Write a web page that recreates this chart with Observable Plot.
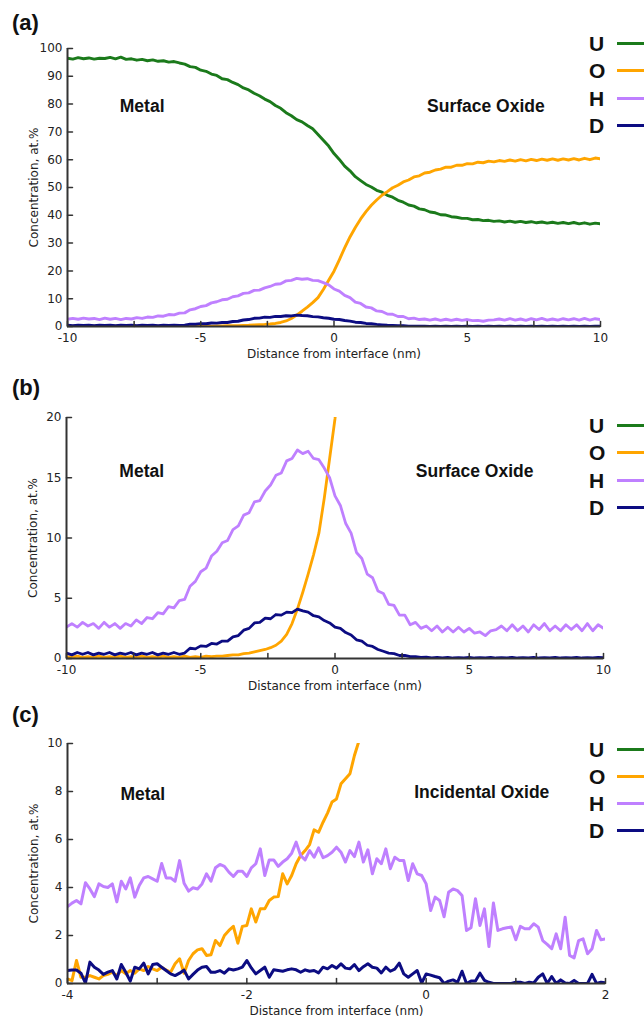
<!DOCTYPE html>
<html>
<head>
<meta charset="utf-8">
<script src="https://cdn.jsdelivr.net/npm/d3@7"></script>
<script src="https://cdn.jsdelivr.net/npm/@observablehq/plot@0.6"></script>
<style>
  body { margin: 0; background: #fff; }
  #fig { position: relative; width: 644px; height: 1017px; overflow: hidden; font-family: "Liberation Sans", Arial, sans-serif; color: #111; }
  .panel { position: absolute; left: 0; }
  .plabel { position: absolute; left: 12px; font-weight: bold; font-size: 22px; line-height: 22px; }
  .legrow { position: absolute; left: 589px; width: 55px; height: 21px; display: flex; align-items: center; }
  .legrow span { font-weight: bold; font-size: 21px; line-height: 21px; width: 28px; }
  .legrow i { display: block; width: 27px; height: 3px; }
</style>
</head>
<body>
<div id="fig"></div>
<script>
// ---------- data ----------
const elements = ["U", "O", "H", "D"];
const elementColors = ["#1b7a1b", "#ffa500", "#bf80ff", "#0c0c82"];

// panels (a) and (b): same profile, sampled every 0.2 nm from -10 to 10
const distanceAB = d3.range(101).map(i => +(-10 + i * 0.2).toFixed(1));
const uAB = [96.5,96.2,96.7,96.3,96.6,96.2,96.5,96.4,96.8,96.3,96.9,96.1,96.3,95.8,96.1,95.6,95.9,95.4,95.6,95.1,
  95.3,94.8,94.4,93.5,93.2,92.2,91.8,90.8,90.3,89.1,88.8,87.8,87.0,85.8,85.1,83.9,83.0,81.8,80.9,79.5,
  78.5,76.9,75.8,74.4,73.6,72.3,71.1,69.1,67.0,64.9,62.2,60.1,57.7,56.0,53.9,52.5,51.1,50.2,49.0,48.3,
  47.2,46.5,45.4,44.7,43.7,43.3,42.3,42.0,41.2,40.9,40.2,40.1,39.5,39.3,38.9,38.9,38.4,38.5,38.1,38.2,
  37.8,38.0,37.6,37.9,37.5,37.8,37.4,37.7,37.3,37.6,37.2,37.5,37.1,37.4,37.0,37.4,36.9,37.3,36.8,37.2,36.9];
const oAB = [0.15,0.1,0.2,0.1,0.15,0.1,0.2,0.1,0.15,0.1,0.2,0.1,0.15,0.1,0.2,0.1,0.15,0.1,0.2,0.1,
  0.15,0.1,0.2,0.1,0.15,0.1,0.2,0.15,0.2,0.2,0.25,0.3,0.3,0.4,0.45,0.55,0.65,0.75,0.9,1.1,
  1.45,2.0,2.9,4.1,5.5,7.0,8.6,10.4,13.3,16.6,19.9,24.0,28.3,32.2,35.6,38.7,41.3,43.6,45.5,47.2,
  48.5,49.9,50.8,52.0,52.7,53.8,54.2,55.2,55.5,56.3,56.6,57.3,57.3,58.0,58.0,58.6,58.5,59.1,58.9,59.5,
  59.2,59.7,59.4,59.9,59.5,60.0,59.6,60.1,59.7,60.2,59.8,60.3,59.8,60.3,59.9,60.4,59.9,60.5,60.0,60.6,60.3];
const hAB = [2.6,2.9,2.6,3.0,2.7,2.9,2.5,3.0,2.6,2.9,2.5,2.9,2.7,3.2,2.9,3.4,3.3,3.8,3.7,4.3,
  4.2,4.8,4.9,6.0,6.4,7.2,7.5,8.5,8.9,9.6,9.8,10.7,11.0,11.9,12.1,13.0,13.1,13.9,14.4,15.2,
  15.4,16.4,16.6,17.3,17.0,17.2,16.6,16.5,15.8,15.0,13.5,12.7,11.2,10.4,8.8,8.3,7.0,6.7,5.6,5.4,
  4.5,4.4,3.6,3.6,2.8,3.0,2.5,2.7,2.3,2.7,2.2,2.6,2.2,2.6,2.2,2.5,2.1,2.2,1.9,2.3,
  2.4,2.7,2.3,2.8,2.3,2.7,2.2,2.8,2.4,2.9,2.3,2.7,2.3,2.8,2.4,2.8,2.3,2.9,2.3,2.8,2.5];
const dAB = [0.45,0.3,0.5,0.35,0.5,0.3,0.45,0.35,0.5,0.3,0.45,0.35,0.5,0.3,0.45,0.35,0.5,0.3,0.45,0.35,
  0.5,0.35,0.45,0.85,0.8,1.05,1.0,1.25,1.2,1.45,1.45,1.8,1.9,2.35,2.5,2.95,3.0,3.35,3.3,3.65,
  3.6,3.85,3.8,4.1,3.95,3.85,3.55,3.45,3.15,2.95,2.6,2.5,2.15,1.95,1.55,1.45,1.1,1.0,0.75,0.6,
  0.45,0.4,0.25,0.25,0.15,0.15,0.1,0.12,0.05,0.1,0.05,0.1,0.04,0.08,0.05,0.1,0.04,0.08,0.05,0.1,
  0.04,0.08,0.05,0.1,0.04,0.08,0.05,0.1,0.04,0.08,0.05,0.1,0.04,0.08,0.05,0.1,0.04,0.08,0.05,0.1,0.06];

// panel (c): sampled every 0.05 nm from -4 to 2
const distanceC = d3.range(121).map(i => +(-4 + i * 0.05).toFixed(2));
const oC = [0.19,0.12,0.96,0.26,0.26,0.33,0.26,0.19,0.33,0.38,0.47,0.33,0.54,0.4,0.54,0.43,0.61,0.54,0.71,0.61,
  0.54,0.68,0.56,0.47,0.82,1.03,0.43,0.96,1.24,1.4,1.45,1.17,1.2,1.79,1.58,2.0,2.21,2.38,1.68,2.38,
  2.42,3.11,2.56,3.11,3.11,3.46,3.6,3.62,4.57,4.15,4.5,4.99,5.33,5.54,5.79,6.4,6.3,6.72,7.1,7.56,
  7.69,8.32,8.53,8.74,9.5,10.1];
const hC = [3.2,3.35,3.46,3.32,4.2,3.94,3.62,4.15,4.04,4.0,4.15,3.4,4.26,3.94,4.4,3.6,4.08,4.4,4.46,4.36,
  4.26,5.0,4.4,4.4,4.26,5.12,4.18,3.85,3.99,3.94,4.15,4.57,4.26,4.82,4.96,4.88,4.64,4.46,4.68,4.68,
  4.46,4.82,4.99,5.61,4.5,5.15,5.15,4.88,5.06,5.2,5.43,5.89,5.33,5.15,5.54,5.26,5.65,5.24,5.33,5.47,
  5.68,5.47,5.06,5.54,5.29,5.89,5.06,5.57,4.57,5.2,4.99,5.61,4.78,5.26,5.13,5.13,4.29,4.99,4.57,4.5,
  4.15,3.04,3.6,3.46,2.78,3.8,3.94,3.87,3.67,2.21,2.32,3.53,2.42,3.11,1.54,3.35,2.21,2.28,2.32,2.35,
  1.82,2.38,2.28,2.28,2.49,2.35,1.79,1.63,1.45,2.07,1.45,2.76,1.17,1.07,1.79,1.86,1.24,1.45,2.21,1.82,1.86];
const dC = [0.54,0.56,0.56,0.43,0.02,0.89,0.68,0.56,0.38,0.47,0.54,0.19,0.79,0.47,0.1,0.68,0.61,0.85,0.4,0.79,
  0.82,0.68,0.54,0.4,0.33,0.43,0.56,0.19,0.38,0.56,0.68,0.71,0.47,0.47,0.54,0.43,0.61,0.56,0.61,0.68,
  0.96,0.65,0.4,0.54,0.68,0.26,0.57,0.54,0.51,0.57,0.61,0.57,0.47,0.57,0.51,0.54,0.44,0.68,0.61,0.75,
  0.64,0.82,0.64,0.61,0.79,0.54,0.7,0.82,0.68,0.64,0.44,0.68,0.51,0.6,0.85,0.4,0.26,0.4,0.54,0.02,
  0.4,0.35,0.29,0.24,0.0,0.1,0.15,0.05,0.51,0.0,0.1,0.1,0.43,0.13,0.05,0,0,0,0,0,
  0.05,0.05,0,0.05,0.02,0.26,0.4,0,0.29,0,0.15,0.02,0,0.13,0,0,0,0.38,0,0.05,0.03];

// tick values and texts
const xTicksAB = [-10, -5, 0, 5, 10];
const xTickMarksAB = [-10, -7.5, -5, -2.5, 0, 2.5, 5, 7.5, 10];
const yTicksA = [0, 10, 20, 30, 40, 50, 60, 70, 80, 90, 100];
const yTicksB = [0, 5, 10, 15, 20];
const xTicksC = [-4, -2, 0, 2];
const xTickMarksC = [-4, -3, -2, -1, 0, 1, 2];
const yTicksC = [0, 2, 4, 6, 8, 10];
const panelLetters = ["(a)", "(b)", "(c)"];
const regionTexts = [["Metal", "Surface Oxide"], ["Metal", "Surface Oxide"], ["Metal", "Incidental Oxide"]];
const xLabel = "Distance from interface (nm)";
const yLabel = "Concentration, at.%";

// ---------- build ----------
function rows(xs, seriesList) {
  const out = [];
  seriesList.forEach(([el, vals]) => vals.forEach((v, i) => out.push({x: xs[i], v, el})));
  return out;
}
const rowsAB = rows(distanceAB, [["U", uAB], ["O", oAB], ["H", hAB], ["D", dAB]]);
const rowsC = rows(distanceC, [["O", oC], ["H", hC], ["D", dC]]);

const tickShape = {draw(context, l) { context.moveTo(0, 0); context.lineTo(0, -l); }};

const panels = [
  {top: 0, height: 362, mt: 48, mb: 36, ml: 67, mr: 44, xd: [-10, 10], yd: [0, 100], data: rowsAB,
   xt: xTicksAB, xm: xTickMarksAB, yt: yTicksA, sw: 2.9, notes: [[-7.2, 79], [5.7, 79]],
   letterTop: 12, legendTop: 33, legendStep: 27.3},
  {top: 362, height: 333, mt: 55, mb: 37, ml: 66, mr: 41, xd: [-10, 10], yd: [0, 20], data: rowsAB,
   xt: xTicksAB, xm: xTickMarksAB, yt: yTicksB, sw: 2.8, notes: [[-7.2, 15.5], [5.2, 15.55]],
   letterTop: 377, legendTop: 414.5, legendStep: 27.5},
  {top: 695, height: 322, mt: 48, mb: 34, ml: 67, mr: 39, xd: [-4, 2], yd: [0, 10], data: rowsC,
   xt: xTicksC, xm: xTickMarksC, yt: yTicksC, sw: 3, notes: [[-3.16, 7.9], [0.62, 7.98]],
   letterTop: 704, legendTop: 739, legendStep: 27}
];

const fig = document.getElementById("fig");
panels.forEach((p, k) => {
  const notes = regionTexts[k].map((t, i) => ({x: p.notes[i][0], y: p.notes[i][1], text: t}));
  const chart = Plot.plot({
    width: 644, height: p.height,
    marginLeft: p.ml, marginRight: p.mr, marginTop: p.mt, marginBottom: p.mb,
    style: {fontFamily: "'DejaVu Sans', Verdana, sans-serif", fontSize: "12px", color: "#222", background: "transparent", overflow: "visible"},
    x: {domain: p.xd},
    y: {domain: p.yd},
    color: {domain: elements, range: elementColors},
    marks: [
      Plot.line(p.data, {x: "x", y: "v", z: "el", stroke: "el", strokeWidth: p.sw, strokeLinejoin: "round", clip: true}),
      Plot.ruleX([p.xd[0]], {stroke: "#333", strokeWidth: 2}),
      Plot.ruleY([p.yd[0]], {stroke: "#333", strokeWidth: 2}),
      Plot.vector(p.xm, {x: d => d, y: p.yd[0], length: 5, rotate: 0, anchor: "start", shape: tickShape, stroke: "#333", strokeWidth: 1.5}),
      Plot.vector(p.yt, {x: p.xd[0], y: d => d, length: 5, rotate: 90, anchor: "start", shape: tickShape, stroke: "#333", strokeWidth: 1.5}),
      Plot.axisX(p.xt, {tickSize: 0, tickPadding: 7, tickFormat: d => String(d), label: xLabel, labelAnchor: "center", labelArrow: "none", labelOffset: 31}),
      Plot.axisY(p.yt, {tickSize: 0, tickPadding: 5, tickFormat: d => String(d), label: yLabel, labelAnchor: "center", labelArrow: "none", labelOffset: 38}),
      Plot.text(notes, {x: "x", y: "y", text: "text", fontFamily: "'Liberation Sans', Arial, sans-serif", fontWeight: "bold", fontSize: 17.5, fill: "#111"})
    ]
  });
  const holder = document.createElement("div");
  holder.className = "panel";
  holder.style.top = p.top + "px";
  holder.appendChild(chart);
  fig.appendChild(holder);

  const lab = document.createElement("div");
  lab.className = "plabel";
  lab.style.top = p.letterTop + "px";
  lab.textContent = panelLetters[k];
  fig.appendChild(lab);

  elements.forEach((el, i) => {
    const row = document.createElement("div");
    row.className = "legrow";
    row.style.top = (p.legendTop + i * p.legendStep) + "px";
    const s = document.createElement("span");
    s.textContent = el;
    const ln = document.createElement("i");
    ln.style.background = elementColors[i];
    row.appendChild(s);
    row.appendChild(ln);
    fig.appendChild(row);
  });
});
</script>
</body>
</html>
